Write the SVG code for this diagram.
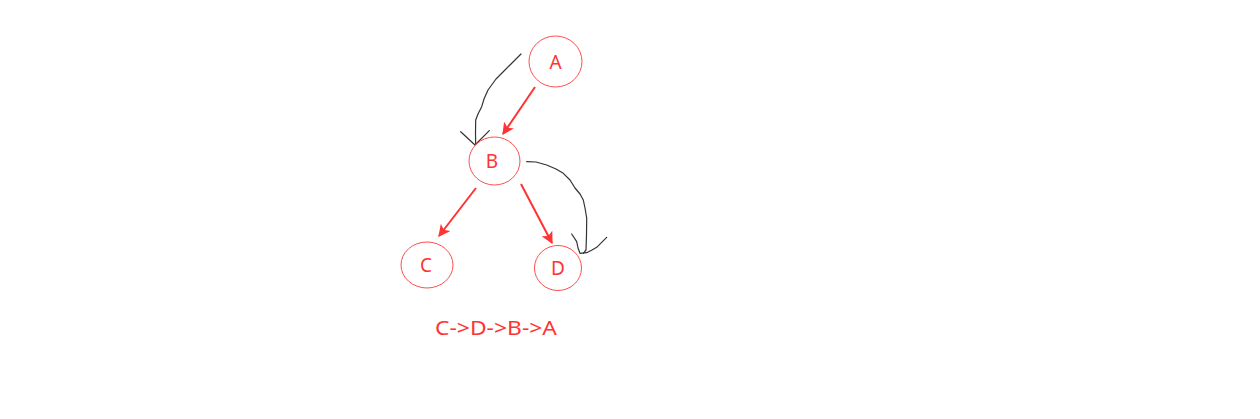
<svg xmlns="http://www.w3.org/2000/svg" width="1260" height="419" viewBox="0 0 1260 419">
<defs>
<style>
.node ellipse{fill:#fff;stroke:#ff4d4d;stroke-width:1}
.lbl{font-family:"Noto Sans","Liberation Sans",sans-serif;font-size:19px;fill:#ff3333;text-anchor:middle}
.cap{font-size:20px}
.edge{stroke:#ff3333;stroke-width:2;fill:none}
.sketch{stroke:#333;stroke-width:1.2;fill:none;stroke-linejoin:round;stroke-linecap:round}
</style>
<marker id="ah" viewBox="0 0 10 10" refX="9" refY="5" markerWidth="6" markerHeight="6" markerUnits="strokeWidth" orient="auto">
<path d="M0,0 L10,5 L0,10 L2.5,5 z" fill="#ff3333"/>
</marker>
</defs>
<rect width="1260" height="419" fill="#fff"/>
<g id="connectors">
<line class="edge" x1="535" y1="87" x2="503" y2="134" marker-end="url(#ah)"/>
<line class="edge" x1="476" y1="188" x2="439" y2="236" marker-end="url(#ah)"/>
<line class="edge" x1="521" y1="184" x2="552" y2="243" marker-end="url(#ah)"/>
<path class="sketch" d="M521,54 L510,65 L502,73 L496,79 L488,90 L484,99 L481.7,106.7 L478,114 L475.7,120 L475.5,133 L475.7,146.7"/>
<path class="sketch" d="M460.7,131.7 L475,145 L489.3,130.7"/>
<path class="sketch" d="M526.7,161.7 L536,162 L546.7,165 L556,169 L563.3,173.3 L570,180 L575,188 L580,194 L583.3,200 L585,208 L586.7,218 L586.5,235 L586,250 L583.3,253.3"/>
<path class="sketch" d="M571.7,234 L576.7,241.7 L578,248 L580,253.3 L586.7,252.7 L592,250 L596.7,247.3 L606.7,237.3"/>
</g>
<g id="node-A" class="node"><ellipse cx="555.5" cy="61.5" rx="26.5" ry="25.5"/><text class="lbl" x="555.5" y="68.5">A</text></g>
<g id="node-B" class="node"><ellipse cx="494.5" cy="161" rx="25.5" ry="24"/><text class="lbl" x="492" y="168">B</text></g>
<g id="node-C" class="node"><ellipse cx="427" cy="265" rx="26" ry="23"/><text class="lbl" x="426" y="272">C</text></g>
<g id="node-D" class="node"><ellipse cx="558" cy="268" rx="23.5" ry="22.5"/><text class="lbl" x="558" y="275">D</text></g>
<text id="caption" class="lbl cap" x="496" y="335" textLength="122" lengthAdjust="spacingAndGlyphs">C-&gt;D-&gt;B-&gt;A</text>
</svg>
